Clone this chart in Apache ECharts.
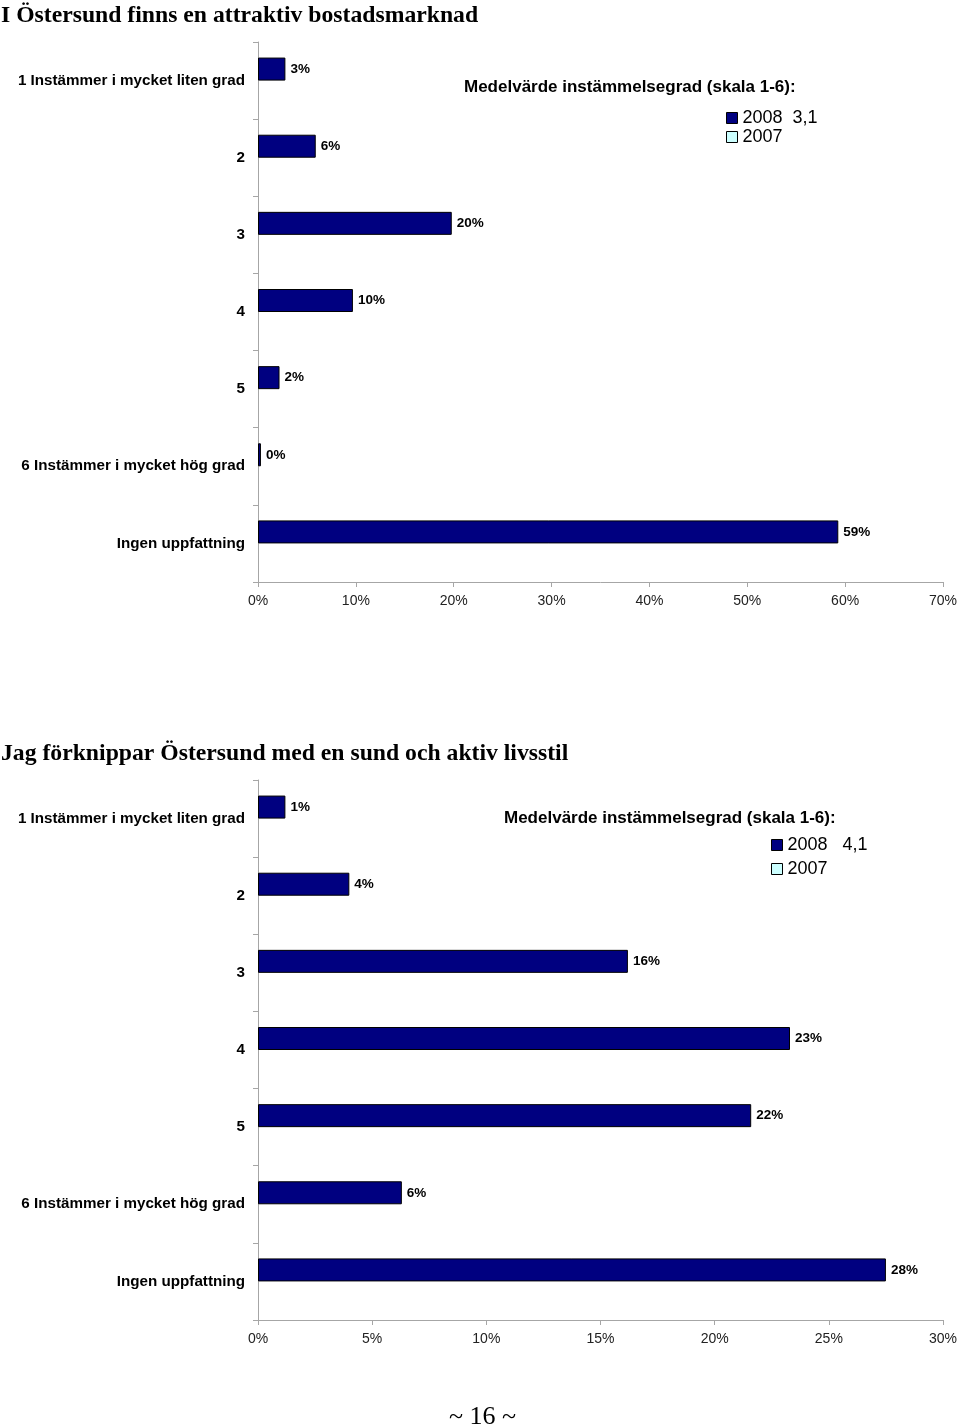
<!DOCTYPE html>
<html>
<head>
<meta charset="utf-8">
<script src="https://cdn.jsdelivr.net/npm/echarts@6/dist/echarts.min.js"></script>
<style>
  html, body { margin: 0; padding: 0; background: #fff; }
  #chart { width: 960px; height: 1427px; }
</style>
</head>
<body>
<div id="chart"></div>
<script>
// ---- Data ----
const title1 = 'I Östersund finns en attraktiv bostadsmarknad';
const title2 = 'Jag förknippar Östersund med en sund och aktiv livsstil';
const meanLabel = 'Medelvärde instämmelsegrad (skala 1-6):';
const categories = ['1 Instämmer i mycket liten grad', '2', '3', '4', '5', '6 Instämmer i mycket hög grad', 'Ingen uppfattning'];
const seriesNames = ['2008', '2007'];
const chart1_2008 = [2.8, 5.9, 19.8, 9.7, 2.2, 0.3, 59.3];
const chart1_2007 = [null, null, null, null, null, null, null];
const chart1_mean2008 = '3,1';
const chart2_2008 = [1.2, 4.0, 16.2, 23.3, 21.6, 6.3, 27.5];
const chart2_2007 = [null, null, null, null, null, null, null];
const chart2_mean2008 = '4,1';
const xTicks1 = { min: 0, max: 70, interval: 10 };
const xTicks2 = { min: 0, max: 30, interval: 5 };
const footer = '~ 16 ~';

// ---- Styles ----
const SANS = 'Liberation Sans, Arial, sans-serif';
const SERIF = 'Liberation Serif, Times New Roman, serif';
const NAVY = '#000080';
const LIGHT = '#CCFFFF';
const AXIS_GRAY = '#a6a6a6';

function xAxisFor(gridIndex, t) {
  return {
    type: 'value', gridIndex: gridIndex, min: t.min, max: t.max, interval: t.interval,
    axisLine: { show: true, lineStyle: { color: AXIS_GRAY, width: 1 } },
    axisTick: { show: true, length: 5, lineStyle: { color: AXIS_GRAY } },
    splitLine: { show: false },
    axisLabel: { formatter: '{value}%', color: '#222', fontFamily: SANS, fontSize: 14, margin: 12 }
  };
}
function yAxisFor(gridIndex) {
  return {
    type: 'category', gridIndex: gridIndex, data: categories, inverse: true,
    axisLine: { show: true, lineStyle: { color: AXIS_GRAY, width: 1 } },
    axisTick: { show: true, length: 5, alignWithLabel: false, lineStyle: { color: AXIS_GRAY } },
    axisLabel: { color: '#000', fontFamily: SANS, fontWeight: 'bold', fontSize: 15.2, margin: 13 }
  };
}
function barSeries(name, data, idx, color) {
  return {
    name: name, type: 'bar', xAxisIndex: idx, yAxisIndex: idx, data: data,
    barWidth: 23, barGap: '0%',
    itemStyle: { color: color, borderColor: '#000', borderWidth: 1 },
    label: {
      show: true, position: 'right', distance: 5, color: '#000',
      fontFamily: SANS, fontWeight: 'bold', fontSize: 13.5,
      formatter: function (p) { return Math.round(p.value) + '%'; }
    },
    animation: false
  };
}
function legendFor(left, top, gap, mean, spaces) {
  return {
    orient: 'vertical', left: left, top: top, itemGap: gap, padding: 0,
    data: seriesNames, icon: 'rect', itemWidth: 11, itemHeight: 11,
    itemStyle: { borderColor: '#000', borderWidth: 1 },
    textStyle: { color: '#000', fontFamily: SANS, fontSize: 18 },
    formatter: function (name) { return name === '2008' ? name + spaces + mean : name; },
    selectedMode: false
  };
}

const chart = echarts.init(document.getElementById('chart'), null, { renderer: 'canvas' });
chart.setOption({
  backgroundColor: '#fff',
  animation: false,
  title: [
    { text: title1, left: 1, top: 4, padding: 0, textStyle: { fontFamily: SERIF, fontWeight: 'bold', fontSize: 23.7, color: '#000' } },
    { text: meanLabel, left: 464, top: 79, padding: 0, textStyle: { fontFamily: SANS, fontWeight: 'bold', fontSize: 17, color: '#000' } },
    { text: title2, left: 1, top: 742, padding: 0, textStyle: { fontFamily: SERIF, fontWeight: 'bold', fontSize: 23.7, color: '#000' } },
    { text: meanLabel, left: 504, top: 810, padding: 0, textStyle: { fontFamily: SANS, fontWeight: 'bold', fontSize: 17, color: '#000' } },
    { text: footer, left: 449, top: 1404, padding: 0, textStyle: { fontFamily: SERIF, fontWeight: 'normal', fontSize: 26, color: '#000' } }
  ],
  legend: [
    legendFor(726, 109, 1, chart1_mean2008, '  '),
    legendFor(771, 836, 6, chart2_mean2008, '   ')
  ],
  grid: [
    { left: 258, top: 42, width: 686, height: 540, containLabel: false },
    { left: 258, top: 780, width: 686, height: 540, containLabel: false }
  ],
  xAxis: [xAxisFor(0, xTicks1), xAxisFor(1, xTicks2)],
  yAxis: [yAxisFor(0), yAxisFor(1)],
  series: [
    barSeries(seriesNames[0], chart1_2008, 0, NAVY),
    barSeries(seriesNames[1], chart1_2007, 0, LIGHT),
    barSeries(seriesNames[0], chart2_2008, 1, NAVY),
    barSeries(seriesNames[1], chart2_2007, 1, LIGHT)
  ]
});
</script>
</body>
</html>
